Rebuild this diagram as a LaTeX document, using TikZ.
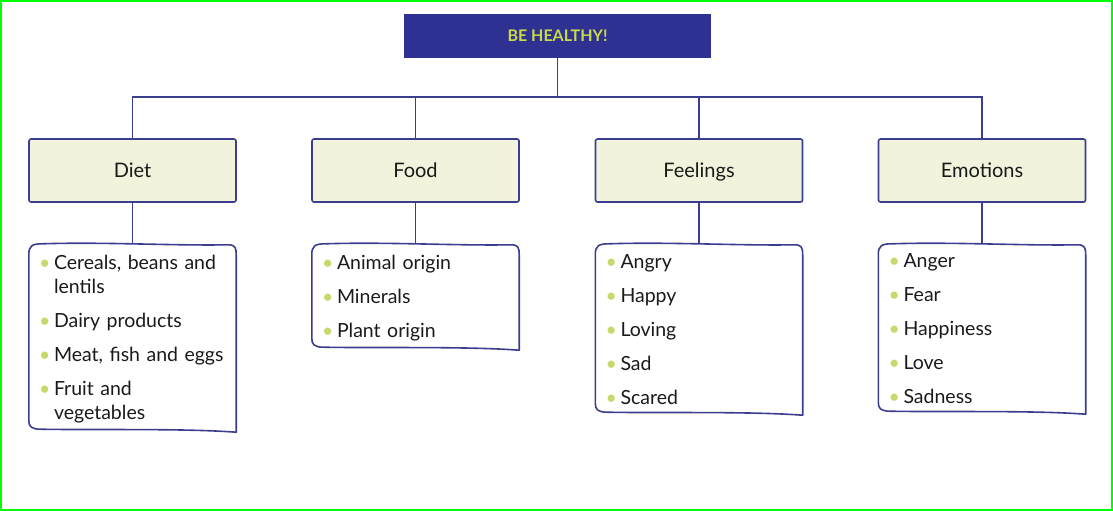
\documentclass[tikz,border=0pt]{standalone}
\usepackage{fontspec}
\setmainfont{Lato}
\usetikzlibrary{calc}
\definecolor{navy}{HTML}{2E3192}
\definecolor{linec}{HTML}{3B3D8F}
\definecolor{cream}{HTML}{F2F3DC}
\definecolor{lime}{HTML}{CADB45}
\definecolor{bulc}{HTML}{C5DA6C}
\definecolor{txt}{HTML}{1A1A1A}
\definecolor{frameg}{HTML}{00FF00}
\newcommand\bul{\makebox[15pt][l]{\textcolor{bulc}{•}}}
\newcommand\itm{\par\vspace{10pt}\noindent\bul}
\newcommand\firstitm{\noindent\bul}
\newcommand\cont{\\\hspace*{15pt}}
\newcommand\wavyframe[1]{%
\draw[boxline] ($(#1.north west)+(0,12)$)
 .. controls ($(#1.north west)+(0,3)$) and ($(#1.north west)+(3,1)$) .. ($(#1.north west)+(14,1)$)
 .. controls ($(#1.north)+(-30,-1)$) and ($(#1.north)+(40,3)$) .. ($(#1.north east)+(-8,2)$)
 .. controls ($(#1.north east)+(-1,2)$) and ($(#1.north east)+(0,5)$) .. ($(#1.north east)+(0,12)$)
 -- (#1.south east)
 .. controls ($(#1.south)+(50,-4)$) and ($(#1.south)+(-40,-2)$) .. ($(#1.south west)+(12,-3)$)
 .. controls ($(#1.south west)+(2,-3)$) and ($(#1.south west)+(0,-6)$) .. ($(#1.south west)+(0,-12)$)
 -- cycle;}
\begin{document}
\begin{tikzpicture}[x=1pt,y=-1pt,
  boxline/.style={draw=linec,line width=1.6pt,line join=round},
  conn/.style={draw=linec,line width=1.6pt},
  title/.style={fill=navy,minimum width=307pt,minimum height=44pt,inner sep=0pt,
    text=lime,font=\fontsize{16}{18}\selectfont\bfseries},
  cat/.style={boxline,fill=cream,rounded corners=2pt,minimum width=207pt,minimum height=63pt,
    inner sep=0pt,text=txt,text height=17pt,text depth=4pt,font=\fontsize{20}{24}\selectfont},
  listbox/.style={minimum width=207pt,inner sep=0pt},
  items/.style={anchor=north west,inner sep=0pt,text width=195pt,align=left,text=txt,
    font=\fontsize{19.5}{24}\selectfont}]
\useasboundingbox (0,0) rectangle (1113,511);
\draw[frameg,line width=2pt] (1,1) rectangle (1112,510);

\node[title] (top) at (557.5,36) {BE HEALTHY!};

\node[cat] (diet) at (132.5,170.5) {Diet};
\node[cat] (food) at (415.5,170.5) {Food};
\node[cat] (feel) at (699,170.5) {Feelings};
\node[cat] (emo) at (982,170.5) {Emotions};

\coordinate (bus) at (557.5,97);
\draw[conn] (top.south) -- (bus);
\draw[conn] (diet.north) |- (bus) -| (emo.north);
\draw[conn] (food.north) -- (food.north |- bus);
\draw[conn] (feel.north) -- (feel.north |- bus);

\node[listbox,minimum height=189pt] (dietl) at (132.5,337.5) {};
\node[listbox,minimum height=107pt] (foodl) at (415.5,296.5) {};
\node[listbox,minimum height=172pt] (feell) at (699,329) {};
\node[listbox,minimum height=171pt] (emol) at (982,328.5) {};
\wavyframe{dietl}
\wavyframe{foodl}
\wavyframe{feell}
\wavyframe{emol}

\draw[conn] (diet) -- (dietl);
\draw[conn] (food) -- (foodl);
\draw[conn] (feel) -- (feell);
\draw[conn] (emo) -- (emol);

\node[items] (diett) at ($(dietl.north west)+(10,12)$) {%
\firstitm Cereals, beans and\cont lentils
\itm Dairy products
\itm Meat, fish and eggs
\itm Fruit and\cont vegetables};
\node[items] (foodt) at ($(foodl.north west)+(10,12)$) {%
\firstitm Animal origin
\itm Minerals
\itm Plant origin};
\node[items] (feelt) at ($(feell.north west)+(10,12)$) {%
\firstitm Angry
\itm Happy
\itm Loving
\itm Sad
\itm Scared};
\node[items] (emot) at ($(emol.north west)+(10,11)$) {%
\firstitm Anger
\itm Fear
\itm Happiness
\itm Love
\itm Sadness};
\end{tikzpicture}
\end{document}
